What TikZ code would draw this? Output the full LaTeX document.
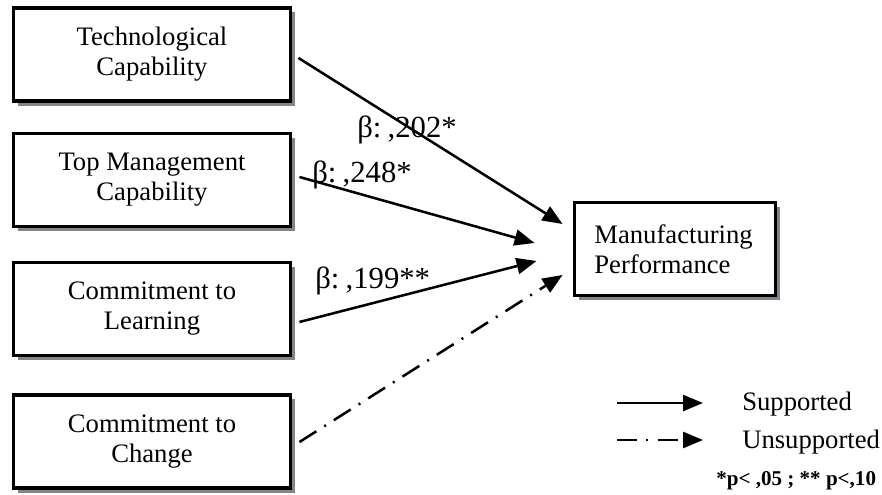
\documentclass[tikz,border=0pt]{standalone}
\usepackage{fontspec}
\setmainfont{Liberation Serif}
\usetikzlibrary{shadows,calc,arrows.meta}

\definecolor{shadowgray}{RGB}{128,134,140}

\tikzset{
  varbox/.style={draw=black, line width=2.7pt, fill=white,
    minimum width=208pt, minimum height=70pt, inner sep=2pt,
    align=center, font=\fontsize{20}{22.5}\selectfont,
    drop shadow={shadow xshift=3.4pt, shadow yshift=-3.4pt,
      fill=shadowgray, opacity=1}},
  outbox/.style={varbox, minimum width=150.5pt, minimum height=69.5pt,
    text width=121pt, inner xsep=15pt, align=left},
  path/.style={line width=1.9pt, -{Triangle[length=15pt,width=12pt]}},
  unsupp/.style={path, dash pattern=on 15pt off 7pt on 1.5pt off 7pt},
  beta/.style={anchor=base west, inner sep=0pt, font=\fontsize{23}{26}\selectfont},
  legendtext/.style={anchor=base west, inner sep=0pt, font=\fontsize{20}{22.5}\selectfont},
}

\begin{document}
\begin{tikzpicture}[x=0.75pt, y=-0.75pt]
  \useasboundingbox (0,0) rectangle (882,495);

  % predictor constructs
  \node[varbox] (tech) at (152,54.5) {Technological\\Capability};
  \node[varbox] (top)  at (152,180)  {Top Management\\Capability};
  \node[varbox] (learn) at (152,309) {Commitment to\\Learning};
  \node[varbox] (change) at (152,441.5) {Commitment to\\Change};

  % outcome construct
  \node[outbox] (perf) at (675,249) {Manufacturing\\Performance};

  % hypothesised paths
  \draw[path]   ($(tech.east)+(6,3.5)$)  -- ($(perf.west)+(-10,-25)$);
  \draw[path]   ($(top.east)+(7,-3)$)    -- ($(perf.west)+(-38,-6)$);
  \draw[path]   ($(learn.east)+(7,13)$)  -- ($(perf.west)+(-36,12)$);
  \draw[unsupp] ($(change.east)+(7,0.5)$) -- ($(perf.west)+(-10,26)$);

  % path coefficients
  \node[beta] (b1) at (357,138) {β:\kern-1pt\ ,202*};
  \node[beta] (b2) at (312,183) {β:\kern-1pt\ ,248*};
  \node[beta] (b3) at (315,289) {β:\kern-1pt\ ,199**};

  % legend
  \coordinate (l1a) at (617,403);
  \coordinate (l1b) at (703,403);
  \coordinate (l2a) at (617,440);
  \coordinate (l2b) at (703,440);
  \draw[path]   (l1a) -- (l1b);
  \draw[unsupp] (l2a) -- (l2b);
  \node[legendtext] (sup) at (742,411) {Supported};
  \node[legendtext] (uns) at (742,448) {Unsupported};
  \node[anchor=base west, inner sep=0pt, font=\fontsize{15.8}{18}\selectfont\bfseries]
    (note) at (716,485) {*p< ,05 ; ** p<,10};
\end{tikzpicture}
\end{document}
